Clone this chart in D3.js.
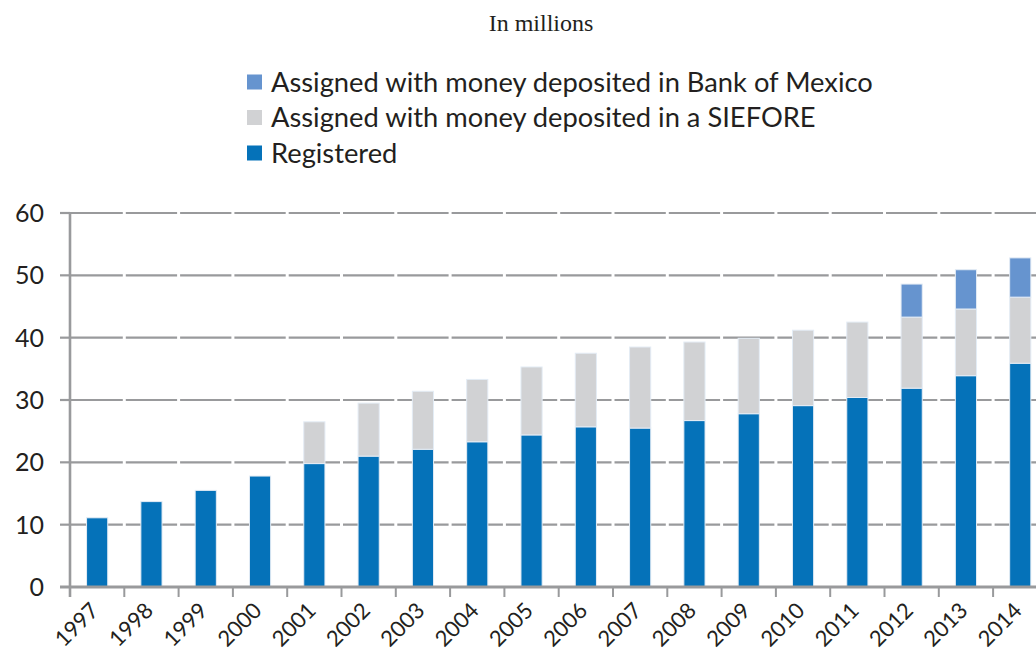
<!DOCTYPE html>
<html>
<head>
<meta charset="utf-8">
<script src="https://cdn.jsdelivr.net/npm/d3@7"></script>
<style>
  body { margin: 0; background: #fff; }
  svg { display: block; }
</style>
</head>
<body>
<div id="chart"></div>
<script>
const years = ["1997", "1998", "1999", "2000", "2001", "2002", "2003", "2004", "2005",
    "2006", "2007", "2008", "2009", "2010", "2011", "2012", "2013", "2014"];
const registered = [11.1, 13.7, 15.5, 17.8, 19.8, 21.0, 22.1, 23.3, 24.4,
    25.7, 25.5, 26.7, 27.8, 29.1, 30.4, 31.9, 33.9, 35.9];
const siefore = [0, 0, 0, 0, 6.7, 8.5, 9.3, 10.0, 10.9,
    11.8, 13.0, 12.6, 12.1, 12.1, 12.1, 11.4, 10.7, 10.6];
const banxico = [0, 0, 0, 0, 0, 0, 0, 0, 0,
    0, 0, 0, 0, 0, 0, 5.3, 6.3, 6.3];
const yTicks = [0, 10, 20, 30, 40, 50, 60];
const seriesNames = ["Registered", "Assigned with money deposited in a SIEFORE",
    "Assigned with money deposited in Bank of Mexico"];
const title = "In millions";

const width = 1036, height = 658;
const colors = ["#0572b9", "#d1d2d4", "#6694cf"];
const gridColor = "#999a9c";
const font = "Lato, 'Open Sans', sans-serif";

const rows = years.map((yr, i) => ({year: yr, s0: registered[i], s1: siefore[i], s2: banxico[i]}));
const stacked = d3.stack().keys(["s0", "s1", "s2"])(rows);

const svg = d3.select("#chart").append("svg")
    .attr("width", width)
    .attr("height", height);

// x goes past the right edge, the source picture is cut there
const x = d3.scaleBand().domain(years).range([70, 1047.4]);
const y = d3.scaleLinear().domain([0, 60]).range([587, 213]);
const bw = x.bandwidth();
const barW = bw * 0.39;

svg.append("text")
    .attr("x", 541)
    .attr("y", 31)
    .attr("text-anchor", "middle")
    .attr("font-family", "'Liberation Serif', 'Times New Roman', serif")
    .attr("font-size", 24)
    .attr("fill", "#231f20")
    .text(title);

// legend, top entry is the top of the stack
const legend = svg.append("g");
const legendItems = seriesNames.map((n, i) => ({name: n, color: colors[i]})).reverse();
legendItems.forEach((d, i) => {
    const cy = 82 + i * 35.5;
    legend.append("rect")
        .attr("x", 247).attr("y", cy - 7.5)
        .attr("width", 15).attr("height", 15)
        .attr("fill", d.color);
    legend.append("text")
        .attr("x", 271).attr("y", cy)
        .attr("dy", "0.36em")
        .attr("font-family", font)
        .attr("font-size", 27.3)
        .attr("fill", "#231f20")
        .text(d.name);
});

// gridlines, broken at each category boundary like the original
const grid = svg.append("g")
    .attr("stroke", gridColor)
    .attr("stroke-width", 2.2);
yTicks.filter(t => t > 0).forEach(t => {
    grid.selectAll(null)
        .data(years)
        .join("line")
        .attr("x1", d => x(d) + (d === years[0] ? 0 : 1.5))
        .attr("x2", d => x(d) + bw - 1.5)
        .attr("y1", y(t)).attr("y2", y(t));
    grid.append("line")
        .attr("x1", 60).attr("x2", 70)
        .attr("y1", y(t)).attr("y2", y(t));
});

// bars
svg.append("g")
    .selectAll("g")
    .data(stacked)
    .join("g")
    .attr("fill", (d, i) => colors[i])
    .selectAll("rect")
    .data(d => d.filter(p => p[1] - p[0] > 0))
    .join("rect")
    .attr("x", d => x(d.data.year) + (bw - barW) / 2)
    .attr("width", barW)
    .attr("y", d => y(d[1]))
    .attr("height", d => y(d[0]) - y(d[1]))
    .attr("stroke", "#e4ecf5")
    .attr("stroke-width", 1);

// axes
const axes = svg.append("g").attr("stroke", gridColor);
axes.append("line")
    .attr("x1", 70).attr("x2", 70)
    .attr("y1", y(60) - 1).attr("y2", 597)
    .attr("stroke-width", 2.6);
axes.append("line")
    .attr("x1", 60).attr("x2", width)
    .attr("y1", y(0)).attr("y2", y(0))
    .attr("stroke-width", 3);
axes.selectAll(null)
    .data(years.slice(1))
    .join("line")
    .attr("x1", d => x(d)).attr("x2", d => x(d))
    .attr("y1", y(0)).attr("y2", 597)
    .attr("stroke-width", 2);

// y labels
svg.append("g")
    .selectAll("text")
    .data(yTicks)
    .join("text")
    .attr("x", 44)
    .attr("y", d => y(d))
    .attr("dy", "0.36em")
    .attr("text-anchor", "end")
    .attr("font-family", font)
    .attr("font-size", 25)
    .attr("fill", "#231f20")
    .text(d => d);

// x labels, rotated
svg.append("g")
    .selectAll("text")
    .data(years)
    .join("text")
    .attr("transform", d => `translate(${x(d) + bw / 2 + 3},${612}) rotate(-45)`)
    .attr("text-anchor", "end")
    .attr("font-family", font)
    .attr("font-size", 22)
    .attr("fill", "#231f20")
    .text(d => d);
</script>
</body>
</html>
